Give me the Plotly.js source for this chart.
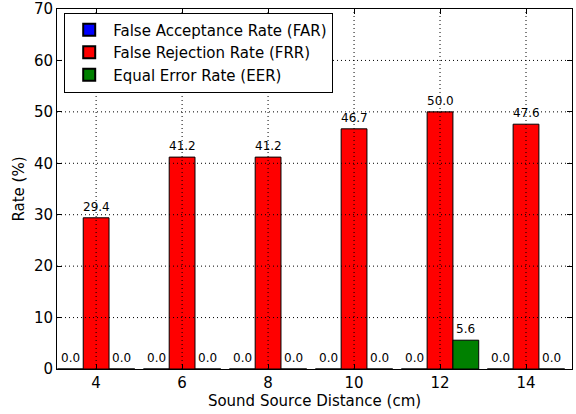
<!DOCTYPE html>
<html>
<head>
<meta charset="utf-8">
<script src="https://cdn.plot.ly/plotly-3.0.1.min.js"></script>
<style>html,body{margin:0;padding:0;background:#fff;}#chart{width:576px;height:414px;}</style>
</head>
<body>
<div id="chart"></div>
<script>
const distances = [4, 6, 8, 10, 12, 14];
const farValues = [0.0, 0.0, 0.0, 0.0, 0.0, 0.0];
const frrValues = [29.4, 41.2, 41.2, 46.7, 50.0, 47.6];
const eerValues = [0.0, 0.0, 0.0, 0.0, 5.6, 0.0];
const seriesNames = ['False Acceptance Rate (FAR)', 'False Rejection Rate (FRR)', 'Equal Error Rate (EER)'];
const seriesColors = ['#0000ff', '#ff0000', '#008000'];
const yTicks = [0, 10, 20, 30, 40, 50, 60, 70];

const barWidth = 0.6;
const offsets = [-barWidth, 0, barWidth];
const allValues = [farValues, frrValues, eerValues];

const traces = allValues.map((vals, i) => ({
  type: 'bar',
  name: seriesNames[i],
  x: distances.map(d => d + offsets[i]),
  y: vals,
  width: barWidth,
  marker: {color: seriesColors[i], line: {color: '#000', width: 1}},
  hoverinfo: 'skip'
}));

const annotations = [];
allValues.forEach((vals, i) => {
  vals.forEach((v, j) => {
    annotations.push({
      x: distances[j] + offsets[i], y: v, xref: 'x', yref: 'y',
      text: v.toFixed(1), showarrow: false, yanchor: 'bottom', yshift: 2,
      font: {family: 'DejaVu Sans', size: 12, color: '#000'}
    });
  });
});

// dotted grid drawn above the bars, at the tick positions
const gridLine = {color: '#000', width: 1, dash: '1px,3px'};
const shapes = [];
yTicks.slice(1, -1).forEach(t => shapes.push({
  type: 'line', layer: 'above', xref: 'paper', yref: 'y', x0: 0, x1: 1, y0: t, y1: t, line: gridLine
}));
distances.forEach(t => shapes.push({
  type: 'line', layer: 'above', xref: 'x', yref: 'paper', x0: t, x1: t, y0: 0, y1: 1, line: gridLine
}));

const layout = {
  width: 576, height: 414,
  margin: {l: 57, r: 4, t: 9, b: 45},
  paper_bgcolor: '#fff', plot_bgcolor: '#fff',
  barmode: 'overlay',
  font: {family: 'DejaVu Sans', color: '#000'},
  showlegend: true,
  legend: {
    x: 0.014, y: 0.99, xanchor: 'left', yanchor: 'top',
    bgcolor: '#fff', bordercolor: '#000', borderwidth: 1,
    font: {family: 'DejaVu Sans', size: 15, color: '#000'},
    itemwidth: 38, itemsizing: 'constant',
    tracegroupgap: 0
  },
  xaxis: {
    range: [3.09, 15.07],
    tickvals: distances, ticktext: distances.map(String),
    ticks: 'inside', ticklen: 5, tickcolor: '#000',
    showline: true, linecolor: '#000', linewidth: 1, mirror: 'ticks',
    showgrid: false, zeroline: false, layer: 'above traces',
    ticklabeloverflow: 'allow',
    tickfont: {family: 'DejaVu Sans', size: 15, color: '#000'},
    title: {text: 'Sound Source Distance (cm)', font: {family: 'DejaVu Sans', size: 15, color: '#000'}, standoff: 4}
  },
  yaxis: {
    range: [0, 70],
    tickvals: yTicks, ticktext: yTicks.map(String),
    ticks: 'inside', ticklen: 5, tickcolor: '#000',
    showline: true, linecolor: '#000', linewidth: 1, mirror: 'ticks',
    showgrid: false, zeroline: false, layer: 'above traces',
    ticklabeloverflow: 'allow',
    tickfont: {family: 'DejaVu Sans', size: 15, color: '#000'},
    title: {text: 'Rate (%)', font: {family: 'DejaVu Sans', size: 15, color: '#000'}, standoff: 5}
  },
  shapes: shapes,
  annotations: annotations
};

Plotly.newPlot('chart', traces, layout, {displayModeBar: false, staticPlot: true});
</script>
</body>
</html>
